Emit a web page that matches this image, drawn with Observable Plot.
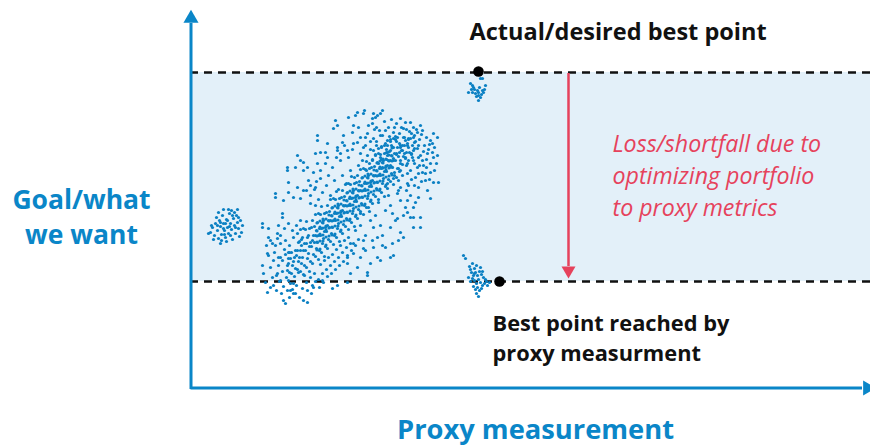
<!DOCTYPE html>
<html><head><meta charset="utf-8">
<script src="https://cdn.jsdelivr.net/npm/d3@7"></script>
<script src="https://cdn.jsdelivr.net/npm/@observablehq/plot@0.6"></script>
<style>body{margin:0;background:#fff}svg{display:block}</style>
</head><body><div id="chart"></div>
<script>
// Levels of the goal: best point reached by proxy (bottom), actual best point (top)
const bandGoal = [104, 313];
const bestPoints = [{proxy: 288, goal: 314}, {proxy: 309, goal: 104}];

// Main scatter cloud (proxy, goal) pairs
const mainCloud = [
// dense diagonal core
98,105, 99,113, 97,120, 98,127, 99,133,
101,112, 102,120, 100,127, 101,133,
104,109, 105,117, 103,124, 104,128, 105,135,
107,116, 108,124, 106,130, 107,135, 108,143,
110,114, 111,122, 109,128, 110,135, 111,140, 109,144, 110,156,
113,111, 114,120, 112,128, 113,135, 114,142, 112,148, 113,157,
116,118, 117,127, 115,135, 116,142, 117,148, 115,156, 116,164,
119,114, 120,124, 118,132, 119,139, 120,143, 118,150, 119,157,
122,122, 123,131, 121,139, 122,145, 123,150, 121,158, 122,165,
125,129, 126,137, 124,143, 125,150, 126,155, 124,159, 125,171,
128,126, 129,135, 127,143, 128,150, 129,157, 127,163, 128,172,
131,133, 132,142, 130,150, 131,157, 132,163, 130,171, 131,179,
134,129, 135,139, 133,147, 134,154, 135,158, 133,165, 134,172,
137,137, 138,146, 136,154, 137,160, 138,165, 136,173, 137,180,
140,144, 141,152, 139,158, 140,165, 141,170, 139,174, 140,186,
143,141, 144,150, 142,158, 143,165, 144,172, 142,178, 143,187,
146,148, 147,157, 145,165, 146,172, 147,178, 145,186, 146,194,
149,144, 150,154, 148,162, 149,169, 150,173, 148,180, 149,187,
152,152, 153,161, 151,169, 152,175, 153,180, 151,188, 152,195,
155,159, 156,167, 154,173, 155,180, 156,185, 154,189, 155,201,
158,156, 159,165, 157,173, 158,180, 159,187, 157,193, 158,202,
161,163, 162,172, 160,180, 161,187, 162,193, 160,201, 161,209,
164,159, 165,169, 163,177, 164,184, 165,188, 163,195, 164,202,
167,167, 168,176, 166,184, 167,190, 168,195, 166,203, 167,210,
170,174, 171,182, 169,188, 170,195, 171,200, 169,204, 170,216,
173,171, 174,180, 172,188, 173,195, 174,202, 172,208, 173,217,
176,178, 177,187, 175,195, 176,202, 177,208, 175,216, 176,224,
179,174, 180,184, 178,192, 179,199, 180,203, 178,210, 179,217,
182,182, 183,191, 181,199, 182,205, 183,210, 181,218, 182,225,
185,189, 186,197, 184,203, 185,210, 186,215, 184,219, 185,231,
188,186, 189,195, 187,203, 188,210, 189,217, 187,223, 188,232,
191,193, 192,202, 190,210, 191,217, 192,223, 190,231, 191,239,
194,189, 195,199, 193,207, 194,214, 195,218, 193,225, 194,232,
197,197, 198,206, 196,214, 197,220, 198,225, 196,233, 197,240,
200,204, 201,212, 199,218, 200,225, 201,230, 199,234, 200,246,
203,201, 204,210, 202,218, 203,225, 204,232, 202,238, 203,247,
206,208, 207,217, 205,225, 206,232, 207,238, 205,246,
209,214, 210,222, 208,229, 209,233, 210,240,
212,221, 213,229, 211,235, 212,240, 213,248,
215,227, 216,233, 214,240, 215,245,
218,225, 219,233, 217,240, 218,247,
221,232, 222,240, 220,247,
224,237, 225,244, 223,248,
// core, second layer
126.5,135.5, 126.5,143.5, 126.5,149.5, 126.5,154.5, 126.5,162.5,
129.5,136.5, 129.5,144.5, 129.5,151.5, 129.5,158.5, 129.5,164.5,
132.5,144.5, 132.5,150.5, 132.5,157.5, 132.5,162.5, 132.5,166.5,
135.5,140.5, 135.5,148.5, 135.5,155.5, 135.5,159.5, 135.5,166.5,
138.5,149.5, 138.5,157.5, 138.5,164.5, 138.5,170.5,
141.5,150.5, 141.5,158.5, 141.5,164.5, 141.5,169.5, 141.5,177.5,
144.5,151.5, 144.5,159.5, 144.5,166.5, 144.5,173.5, 144.5,179.5,
147.5,159.5, 147.5,165.5, 147.5,172.5, 147.5,177.5, 147.5,181.5,
150.5,155.5, 150.5,163.5, 150.5,170.5, 150.5,174.5, 150.5,181.5,
153.5,164.5, 153.5,172.5, 153.5,179.5, 153.5,185.5,
156.5,165.5, 156.5,173.5, 156.5,179.5, 156.5,184.5, 156.5,192.5,
159.5,166.5, 159.5,174.5, 159.5,181.5, 159.5,188.5, 159.5,194.5,
162.5,174.5, 162.5,180.5, 162.5,187.5, 162.5,192.5, 162.5,196.5,
165.5,170.5, 165.5,178.5, 165.5,185.5, 165.5,189.5, 165.5,196.5,
168.5,179.5, 168.5,187.5, 168.5,194.5, 168.5,200.5,
171.5,180.5, 171.5,188.5, 171.5,194.5, 171.5,199.5, 171.5,207.5,
174.5,181.5, 174.5,189.5, 174.5,196.5, 174.5,203.5, 174.5,209.5,
177.5,189.5, 177.5,195.5, 177.5,202.5, 177.5,207.5, 177.5,211.5,
180.5,185.5, 180.5,193.5, 180.5,200.5, 180.5,204.5, 180.5,211.5,
183.5,194.5, 183.5,202.5, 183.5,209.5, 183.5,215.5,
186.5,195.5, 186.5,203.5, 186.5,209.5, 186.5,214.5, 186.5,222.5,
189.5,196.5, 189.5,204.5, 189.5,211.5, 189.5,218.5, 189.5,224.5,
192.5,204.5, 192.5,210.5, 192.5,217.5, 192.5,222.5, 192.5,226.5,
195.5,200.5, 195.5,208.5, 195.5,215.5, 195.5,219.5, 195.5,226.5,
198.5,209.5, 198.5,217.5, 198.5,224.5, 198.5,230.5,
201.5,210.5, 201.5,218.5, 201.5,224.5, 201.5,229.5, 201.5,237.5,
// lower-left spread
80,118, 83,125, 86,110, 84,133, 88,120, 90,128, 92,114, 94,136, 89,104, 93,99, 96,108, 98,122, 100,102, 97,95,
102,96, 106,100, 108,113, 112,97, 114,110, 116,103, 120,108, 122,100, 124,112,
128,106, 130,121, 132,112, 134,125, 136,116, 138,128, 140,120, 142,131, 144,124, 146,136, 148,128,
150,140, 152,133, 154,145, 156,138, 158,148, 160,142, 85,140, 87,147, 90,150, 95,145, 99,140, 103,148, 107,152,
111,146, 83,100, 86,95, 91,92, 99,88, 105,92, 109,88, 117,95, 121,92, 125,104, 129,98, 133,103,
137,109, 141,112, 145,116, 149,120, 153,124, 157,130, 161,135, 165,140, 168,146, 92,125, 95,131,
94,157, 98,162, 102,155, 106,160, 110,165, 88,160, 80,145, 78,130, 76,140, 82,108,
// upper-right spread
185,230, 188,237, 191,226, 194,240, 197,233, 200,244, 203,238, 206,231, 209,242, 212,235, 215,228, 218,238,
221,231, 224,243, 227,237, 188,222, 192,218, 196,226, 200,220, 204,213, 208,217, 212,210, 216,220, 220,215,
224,222, 228,212, 232,225, 236,218, 240,222, 176,215, 179,222, 182,226, 186,244, 190,250, 195,255, 199,249,
204,258, 209,252, 214,248, 219,254, 224,250, 229,246, 234,240, 238,236, 242,233, 180,236, 184,256, 172,225,
170,232, 175,240,
182,262, 186,258, 194,264, 198,258, 201,266, 206,262, 211,258, 216,256, 221,252, 226,256, 231,251, 236,248,
239,241, 244,238, 233,234, 228,228, 222,228, 214,232, 206,244, 201,240, 196,236, 191,238, 186,240, 180,244,
175,248, 189,255, 205,249, 218,246, 228,240, 236,226, 244,215, 239,206, 231,204, 224,200, 216,195, 208,205,
246,222, 235,212, 229,220, 221,206,
165,270, 167,273, 173,272, 174,275, 183,272, 187,270, 192,275, 190,272, 182,267, 185,268, 145,265, 147,260,
143,257, 158,268, 163,260, 168,258, 127,250, 127,245, 210,267, 215,263, 220,263, 213,257, 223,258, 230,260,
227,253, 232,255, 243,252, 247,248, 242,242, 240,245, 153,250, 152,243, 162,253, 163,242, 167,243, 177,252,
178,260, 170,248, 183,247, 192,250, 197,245, 203,253, 207,248, 195,242, 200,235, 210,238, 217,242, 223,235,
230,230, 237,232, 243,228, 247,230, 137,242, 147,238, 147,235, 150,232, 157,235, 173,238, 177,230, 183,235,
190,228, 197,230, 203,227, 210,225, 217,222, 223,225, 227,218, 233,220, 210,215, 217,212, 225,208, 232,213,
240,213, 243,203, 248,203, 237,195, 240,187, 228,188, 217,202, 210,198, 197,202, 203,207, 207,192, 217,185,
223,178, 202,172, 207,167, 213,170, 220,168, 230,168, 230,158, 223,158,
// upper-left sparse
107,230, 110,225, 105,218, 113,223, 117,218, 97,218, 97,215, 125,232, 130,233, 135,233, 137,228, 127,222,
123,213, 113,215, 107,198, 113,195, 120,200, 125,198, 98,203, 98,193, 85,192, 85,188, 93,185, 103,188, 110,187,
130,207, 120,182, 125,180, 120,190, 124,196, 128,186, 132,193, 136,200, 140,190, 144,205, 148,196, 152,210,
156,202, 160,215, 164,208, 168,220, 130,215, 135,222, 142,218, 150,225, 158,228, 162,236, 154,240, 146,228,
138,210, 126,204, 118,205, 116,195,
// lower-left sparse
72,162, 72,158, 78,157, 92,172, 92,168, 87,152, 78,148, 82,142, 90,142, 77,132, 88,128, 98,133, 72,120, 73,112,
75,103, 80,98, 77,93, 87,112, 90,105, 97,115, 103,102, 100,95, 103,92, 93,85, 95,82, 113,85, 117,83, 123,98,
132,105, 142,97, 147,100, 157,103, 160,112, 177,113, 177,110, 167,118, 157,122,
// lower-right sparse
183,158, 187,148, 192,150, 200,158, 202,142, 195,138, 210,153, 213,148, 208,145, 203,130, 200,128, 190,125,
187,128, 183,138, 173,137, 170,128, 180,122, 163,132, 157,128, 163,142, 173,145, 223,168, 217,173,
165,155, 170,160, 175,150, 180,165, 185,170, 190,160, 195,175, 200,180, 205,165, 210,185, 215,178, 220,190,
225,183, 170,172, 178,178, 188,183, 198,190, 208,195, 218,200, 228,198, 235,205, 175,135, 182,145, 192,140
];

// Small cluster on the left
const leftCluster = [
20,153, 22,158, 24,150, 25,162, 27,155, 28,147, 29,165, 30,159, 31,151, 32,170, 33,162, 34,155, 35,148, 36,166,
37,158, 38,152, 39,172, 40,162, 41,156, 42,146, 43,167, 44,160, 45,152, 46,170, 47,163, 48,157, 49,149, 50,165,
26,168, 28,173, 31,145, 33,176, 36,144, 38,176, 41,175, 44,173, 47,176, 52,160, 51,153, 23,146, 21,160, 35,162,
37,165, 30,163, 33,157, 40,150, 45,158, 27,160, 42,170, 39,159, 48,168, 34,151, 18,152, 30,142
];

// Cluster just below the actual best point
const topCluster = [
280,302, 282,300, 283,298, 278,293, 282,293, 287,295, 288,293, 292,295, 293,293, 295,300, 290,288, 288,285,
288,290, 285,292, 290,307, 292,307, 284,296, 286,289, 289,298, 291,291, 281,296, 294,296
];

// Cluster around the best point reached by proxy
const bottomCluster = [
273,130, 275,127, 279,119, 282,122, 284,117, 286,120, 281,113, 283,110, 285,113, 287,110, 289,114, 291,111,
293,108, 295,106, 288,106, 290,103, 292,100, 294,102, 296,104, 286,102, 284,105, 282,107, 280,104, 287,98,
289,95, 285,96, 283,99, 291,97, 297,100, 299,103, 278,108, 286,92, 288,89, 284,112, 290,118, 280,116, 292,114
];

const annotationTexts = [
  "Actual/desired best point",
  "Best point reached by\nproxy measurment",
  "Loss/shortfall due to\noptimizing portfolio\nto proxy metrics"
];
const axisTitles = ["Goal/what\nwe want", "Proxy measurement"];

const toPoints = (flat) => d3.range(0, flat.length, 2).map(i => ({proxy: flat[i], goal: flat[i + 1]}));
const points = [...toPoints(mainCloud), ...toPoints(leftCluster), ...toPoints(topCluster), ...toPoints(bottomCluster)];

const blue = "#0a86c8", dotBlue = "#0b80c3", red = "#e6425c", font = "Open Sans";
const axisBase = -2.5; // the horizontal axis sits slightly below the goal origin

const chart = Plot.plot({
  width: 870, height: 446,
  marginLeft: 190, marginRight: 0, marginTop: 10, marginBottom: 61,
  x: {domain: [0, 680], axis: null},
  y: {domain: [0, 375], axis: null},
  style: {fontFamily: font, background: "white"},
  marks: [
    Plot.rect([bandGoal], {x1: 0, x2: 680, y1: d => d[0], y2: d => d[1], fill: "#e3f0f9"}),
    Plot.ruleY(bandGoal, {x1: 0, x2: 680, stroke: "#111", strokeWidth: 2.5, strokeDasharray: "8,6"}),
    Plot.dot(points, {x: "proxy", y: "goal", r: 1.6, fill: dotBlue}),
    Plot.ruleX([0.5], {y1: axisBase - 1.5, y2: 362, stroke: blue, strokeWidth: 3}),
    Plot.ruleY([axisBase], {x1: 0.5, x2: 672, stroke: blue, strokeWidth: 3}),
    Plot.dot([0], {x: 0.5, y: 367, symbol: "triangle", r: 5.6, fill: blue}),
    Plot.dot([0], {x: 677, y: axisBase, symbol: "triangle", r: 5.6, fill: blue, rotate: 90}),
    Plot.ruleX([378], {y1: 312, y2: 119, stroke: red, strokeWidth: 2.5}),
    Plot.dot([0], {x: 378, y: 115, symbol: "triangle", r: 5.2, fill: red, rotate: 180}),
    Plot.dot(bestPoints, {x: "proxy", y: "goal", r: 5.3, fill: "#000"}),
    Plot.text([annotationTexts[0]], {x: 279, y: 346, text: d => d, textAnchor: "start", lineAnchor: "bottom",
      fontSize: 23.5, fontWeight: 700, fill: "#111"}),
    Plot.text([annotationTexts[1]], {x: 302, y: 25, text: d => d, textAnchor: "start", lineAnchor: "bottom",
      lineHeight: 1.37, fontSize: 21.8, fontWeight: 700, fill: "#111"}),
    Plot.text([annotationTexts[2]], {x: 422, y: 170, text: d => d, textAnchor: "start", lineAnchor: "bottom",
      lineHeight: 1.36, fontSize: 23.2, fontStyle: "italic", fontWeight: 400, fill: red}),
    Plot.text([axisTitles[0]], {x: -109, y: 142, text: d => d, textAnchor: "middle", lineAnchor: "bottom",
      lineHeight: 1.3, fontSize: 26.5, fontWeight: 700, fill: blue}),
    Plot.text([axisTitles[1]], {x: 345, y: -53, text: d => d, textAnchor: "middle", lineAnchor: "bottom",
      fontSize: 27.3, fontWeight: 700, fill: blue})
  ]
});
document.getElementById("chart").appendChild(chart);
</script>
</body></html>
